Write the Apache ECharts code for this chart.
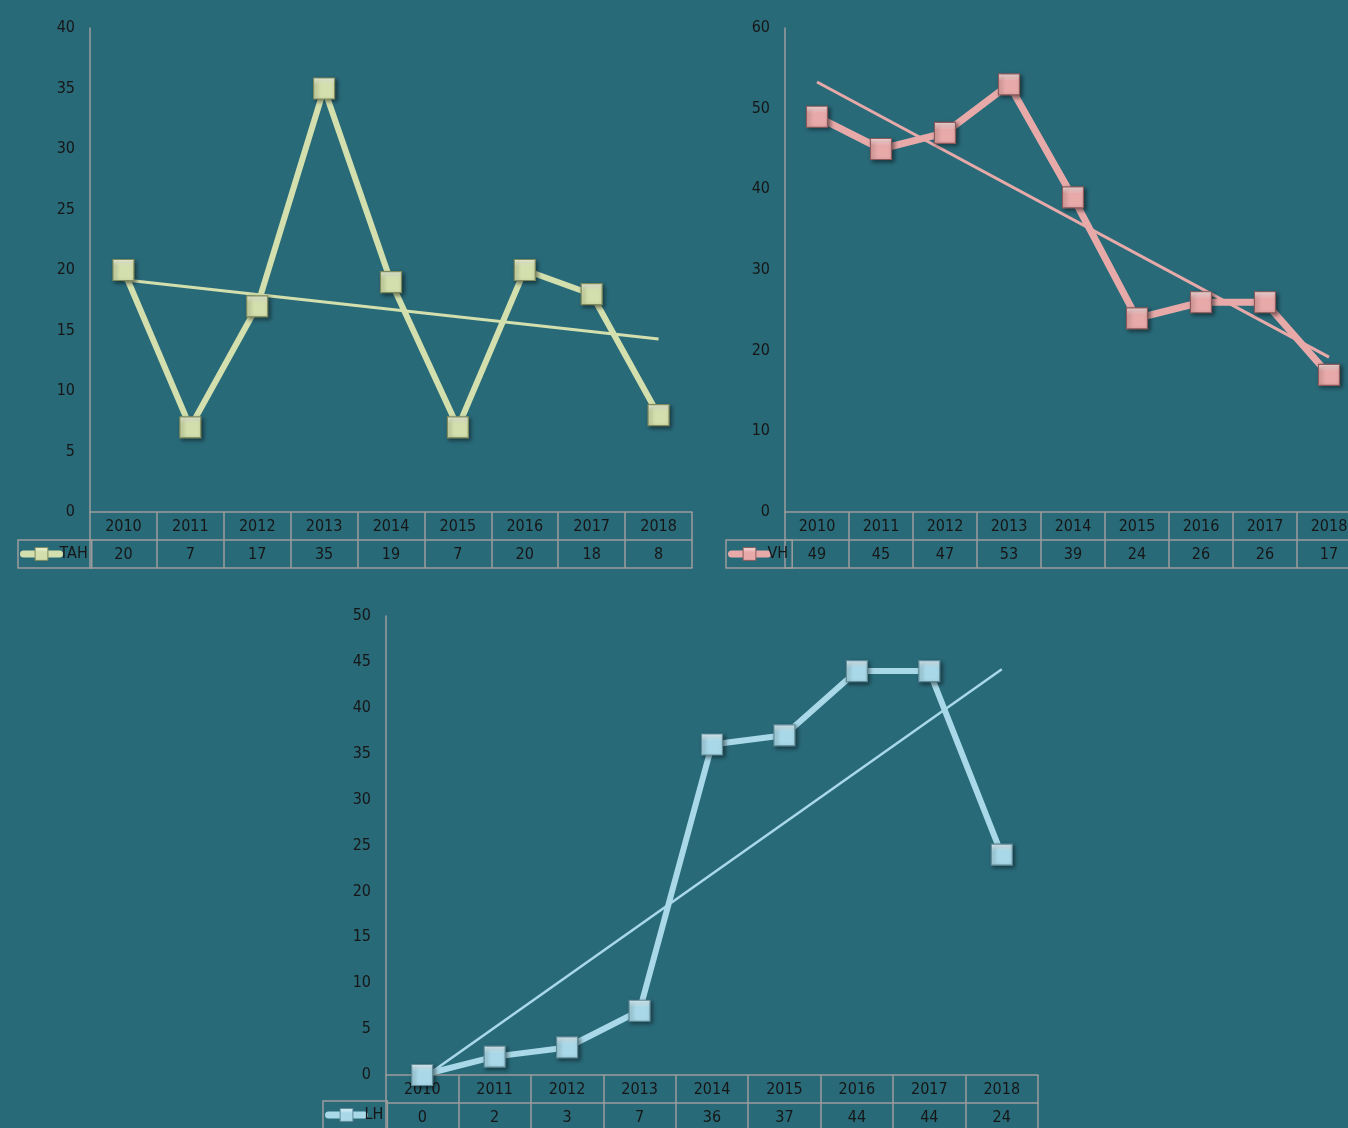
<!DOCTYPE html>
<html>
<head>
<meta charset="utf-8">
<script src="https://cdn.jsdelivr.net/npm/echarts@6/dist/echarts.min.js"></script>
<style>
html,body{margin:0;padding:0;background:#296a79;overflow:hidden;width:1348px;height:1128px;}
#c{width:1400px;height:1128px;}
</style>
</head>
<body>
<div id="c"></div>
<script>
// ---- data ----
const years = ['2010','2011','2012','2013','2014','2015','2016','2017','2018'];
const tahValues = [20, 7, 17, 35, 19, 7, 20, 18, 8];
const vhValues  = [49, 45, 47, 53, 39, 24, 26, 26, 17];
const lhValues  = [0, 2, 3, 7, 36, 37, 44, 44, 24];
// trend line end points (2010, 2018)
const tahTrend = [19.2, 14.3];
const vhTrend  = [53.3, 19.2];
const lhTrend  = [-0.4, 44.2];
// y axis ranges [min, max, interval]
const tahAxis = [0, 40, 5];
const vhAxis  = [0, 60, 10];
const lhAxis  = [0, 50, 5];

const FONT = "'DejaVu Sans Condensed', 'Roboto Condensed', 'Liberation Sans', sans-serif";
const FS = 16;
const TXT = '#161616';
const GRID_LINE = '#9c9c9c';

const panels = [
  {name:'TAH', values:tahValues, trend:tahTrend, axis:tahAxis,
   grid:{left:90, top:28, width:602, height:484}, legend:{left:18, top:540},
   color:'#d3dfac', light:'#f5f9e4', dark:'#7e8a5c', lw:6, tw:3},
  {name:'VH', values:vhValues, trend:vhTrend, axis:vhAxis,
   grid:{left:785, top:28, width:576, height:484}, legend:{left:726, top:540},
   color:'#e8a9a9', light:'#fce6e6', dark:'#8c5a5a', lw:7, tw:3},
  {name:'LH', values:lhValues, trend:lhTrend, axis:lhAxis,
   grid:{left:386, top:616, width:652, height:459}, legend:{left:323, top:1101},
   color:'#a9d9e8', light:'#e8f7fc', dark:'#5f8a98', lw:6, tw:2.5}
];

const option = {
  backgroundColor:'#296a79',
  animation:false,
  grid:[], xAxis:[], yAxis:[], series:[], legend:[]
};

panels.forEach((p, i) => {
  option.grid.push(Object.assign({containLabel:false}, p.grid));
  const base = {type:'category', gridIndex:i, data:years, boundaryGap:true};
  option.xAxis.push(Object.assign({}, base, {
    position:'bottom',
    axisLine:{show:true, lineStyle:{color:GRID_LINE, width:1.5}},
    axisTick:{show:true, interval:0, length:56, lineStyle:{color:GRID_LINE, width:1.5}},
    axisLabel:{interval:0, margin:7, color:TXT, fontFamily:FONT, fontSize:FS}
  }));
  option.xAxis.push(Object.assign({}, base, {
    position:'bottom', offset:28,
    data:p.values.map(String),
    axisLine:{show:true, lineStyle:{color:GRID_LINE, width:1.5}},
    axisTick:{show:false},
    axisLabel:{interval:0, margin:7, color:TXT, fontFamily:FONT, fontSize:FS}
  }));
  option.xAxis.push(Object.assign({}, base, {
    position:'bottom', offset:56,
    axisLine:{show:true, lineStyle:{color:GRID_LINE, width:1.5}},
    axisTick:{show:false}, axisLabel:{show:false}
  }));
  option.yAxis.push({
    type:'value', gridIndex:i, min:p.axis[0], max:p.axis[1], interval:p.axis[2],
    axisLine:{show:true, lineStyle:{color:GRID_LINE, width:1.5}},
    axisTick:{show:false}, splitLine:{show:false},
    axisLabel:{margin:15, color:TXT, fontFamily:FONT, fontSize:FS}
  });
  const grad = new echarts.graphic.LinearGradient(0,0,0,1,[
    {offset:0, color:p.light},{offset:0.35, color:p.color},{offset:1, color:p.color}
  ]);
  const trendData = years.map((y, k) => k === 0 ? p.trend[0] : (k === years.length-1 ? p.trend[1] : null));
  option.series.push({
    type:'line', name:p.name+' trend', xAxisIndex:i*3, yAxisIndex:i,
    data:trendData, connectNulls:true, symbol:'none', silent:true, z:3,
    lineStyle:{color:p.color, width:p.tw}
  });
  option.series.push({
    type:'line', name:p.name, xAxisIndex:i*3, yAxisIndex:i,
    data:p.values, symbol:'rect', symbolSize:21, showSymbol:true, z:4,
    lineStyle:{color:p.color, width:p.lw},
    itemStyle:{color:grad, borderColor:p.dark, borderWidth:1.2,
      shadowColor:'rgba(0,0,0,0.45)', shadowBlur:4, shadowOffsetX:2, shadowOffsetY:2}
  });
  option.legend.push({
    data:[p.name], left:p.legend.left, top:p.legend.top,
    orient:'horizontal', itemWidth:36, itemHeight:16, itemGap:0,
    padding:[5,4,5,2], borderColor:GRID_LINE, borderWidth:1.5,
    lineStyle:{width:7, cap:'round'},
    itemStyle:{borderWidth:1},
    textStyle:{color:TXT, fontFamily:FONT, fontSize:FS, lineHeight:18, padding:[0,0,0,-5]}
  });
});

const chart = echarts.init(document.getElementById('c'), null, {renderer:'canvas'});
chart.setOption(option);
</script>
</body>
</html>
